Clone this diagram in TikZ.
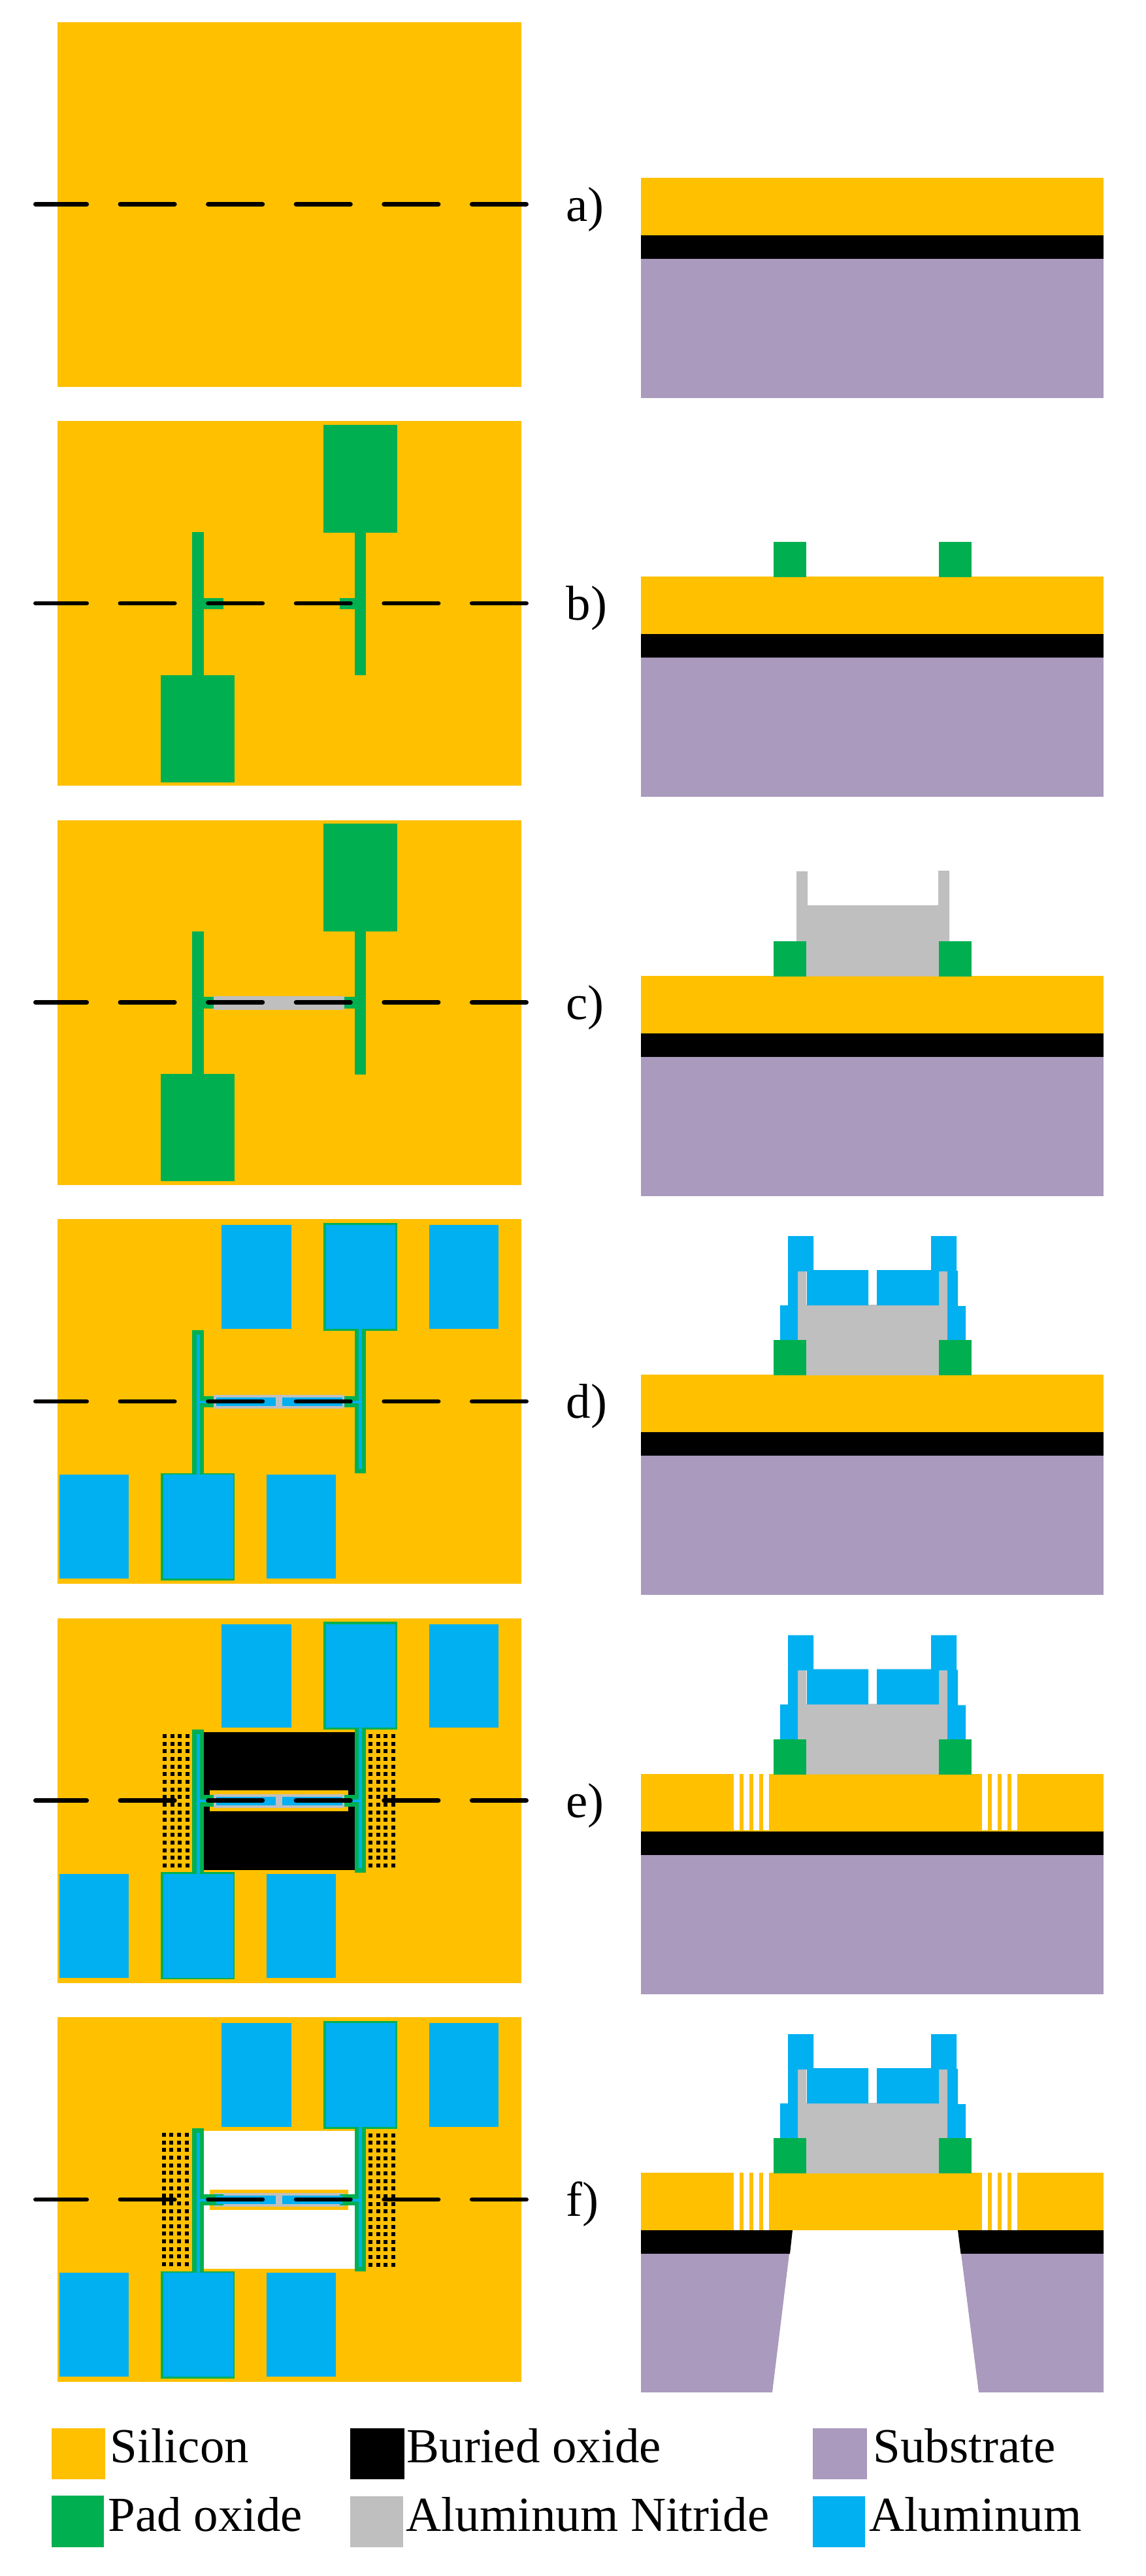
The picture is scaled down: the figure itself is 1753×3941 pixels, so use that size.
\documentclass[tikz,border=0pt]{standalone}
\usepackage{fontspec}
\setmainfont{Liberation Serif}
\usepackage{tikz}
\usetikzlibrary{calc,positioning}
\definecolor{SiliconGold}{HTML}{FFC000}
\definecolor{PadGreen}{HTML}{00B050}
\definecolor{NitrideGray}{HTML}{BFBFBF}
\definecolor{MetalBlue}{HTML}{00B0F0}
\definecolor{SubstratePurple}{HTML}{AA9ABE}
\tikzset{
    silicon/.style={fill=SiliconGold},
    buried/.style={fill=black},
    substrate/.style={fill=SubstratePurple},
    padoxide/.style={fill=PadGreen},
    nitride/.style={fill=NitrideGray},
    metal/.style={fill=MetalBlue},
    opening/.style={fill=white},
    cutline/.style={draw=black,line width=1.95pt,line cap=round,dash pattern=on 23.67pt off 14.6pt,dash phase=1.42pt},
    labeltext/.style={inner sep=0pt,anchor=base west,font=\fontsize{21.3pt}{24pt}\selectfont}
}
% plan view
\newcommand{\planwafer}{\fill[silicon] (88,0) rectangle (797.5,558);}
\newcommand{\planoxide}{
    \fill[padoxide] (495,5.8) rectangle (607.7,170.8);
    \fill[padoxide] (543,170.8) rectangle (560,389);
    \fill[padoxide] (520,270.7) rectangle (543,288);
    \fill[padoxide] (294,170.4) rectangle (311.7,388.5);
    \fill[padoxide] (311.7,270.7) rectangle (342,288);
    \fill[padoxide] (246,388.5) rectangle (359,552.7);
}
\newcommand{\plannitride}{\fill[nitride] (326.5,269) rectangle (527.3,290.3);}
\newcommand{\planmetal}{
    \foreach \xa/\xb in {339/446,498.5/604.6,657/762.8}
        \fill[metal] (\xa,9) rectangle (\xb,167.5);
    \foreach \xa/\xb in {90.8/197,249.5/356.6,408/513.8}
        \fill[metal] (\xa,391) rectangle (\xb,550);
    \fill[metal] (300.5,177) rectangle (305.6,391);
    \fill[metal] (549,167.5) rectangle (554,382);
    \fill[metal] (305.6,277.8) rectangle (331,281.6);
    \fill[metal] (523.5,277.8) rectangle (549,281.6);
    \fill[metal] (331,273) rectangle (422,286);
    \fill[metal] (432,273) rectangle (523.5,286);
}
% release holes, #1 is the first column, #2 the first row
\newcommand{\holegrid}[2]{
    \foreach \col in {0,...,3}
        \foreach \row in {0,...,17}
            \fill[buried] ({#1+\col*11.67-3},{#2+\row*11.65-3}) rectangle ++(6,6);
}
% cross section
\newcommand{\crosssilicon}{\fill[silicon] (981,238) rectangle (1689,326);}
\newcommand{\crosslayers}{
    \crosssilicon
    \fill[buried] (981,326) rectangle (1689,362);
    \fill[substrate] (981,362) rectangle (1689,575);
}
\newcommand{\crossoxide}{
    \fill[padoxide] (1184,185) rectangle (1234,239);
    \fill[padoxide] (1437,185) rectangle (1487,239);
}
\newcommand{\crossmetal}{
    \fill[nitride] (1234,131) -- (1437,131) -- (1437,80) -- (1450,80) -- (1450,186.5) -- (1437,186.5)
        -- (1437,239) -- (1234,239) -- (1234,186.5) -- (1221,186.5) -- (1221,80) -- (1234,80) -- cycle;
    \fill[metal] (1206,26) -- (1245,26) -- (1245,78) -- (1329,78) -- (1329,132) -- (1235,132) -- (1235,80)
        -- (1221,80) -- (1221,186) -- (1194,186) -- (1194,132) -- (1206,132) -- cycle;
    \fill[metal] (1425,26) -- (1464,26) -- (1464,79) -- (1466,79) -- (1466,133) -- (1478,133) -- (1478,187)
        -- (1450,187) -- (1450,80) -- (1437,80) -- (1437,132) -- (1342,132) -- (1342,78) -- (1425,78) -- cycle;
}
% trenches through the silicon, #1 is their lower end
\newcommand{\crosstrenches}[1]{
    \foreach \xa/\xb in {1123.2/1132.3,1138/1147,1152.9/1162,1168/1177,1503/1511.5,1518/1526.5,1533/1541.5,1548/1557}
        \fill[opening] (\xa,238) rectangle (\xb,#1);
}
\begin{document}
\begin{tikzpicture}[x=0.01cm,y=-0.01cm]
    \useasboundingbox (0,0) rectangle (1753,3941);

    % a)
    \begin{scope}[shift={(0,33.5)}]
        \planwafer
        \crosslayers
        \coordinate (cutaL) at (54.4,279);
        \coordinate (cutaR) at (806,279);
        \draw[cutline] (cutaL) -- (cutaR);
        \node[labeltext] (labela) at (866,304.6) {a)};
    \end{scope}

    % b)
    \begin{scope}[shift={(0,644)}]
        \planwafer
        \planoxide
        \crosslayers
        \crossoxide
        \coordinate (cutbL) at (54.4,279);
        \coordinate (cutbR) at (806,279);
        \draw[cutline] (cutbL) -- (cutbR);
        \node[labeltext] (labelb) at (866,304.6) {b)};
    \end{scope}

    % c)
    \begin{scope}[shift={(0,1254.5)}]
        \planwafer
        \planoxide
        \plannitride
        \crosslayers
        \fill[nitride] (1236,130.5) -- (1436,130.5) -- (1436,77.5) -- (1453,77.5) -- (1453,186.5) -- (1437,186.5)
            -- (1437,239) -- (1234,239) -- (1234,186.5) -- (1219,186.5) -- (1219,78.5) -- (1236,78.5) -- cycle;
        \crossoxide
        \coordinate (cutcL) at (54.4,279);
        \coordinate (cutcR) at (806,279);
        \draw[cutline] (cutcL) -- (cutcR);
        \node[labeltext] (labelc) at (866,304.6) {c)};
    \end{scope}

    % d)
    \begin{scope}[shift={(0,1865)}]
        \planwafer
        \planoxide
        \plannitride
        \planmetal
        \crosslayers
        \crossmetal
        \crossoxide
        \coordinate (cutdL) at (54.4,279);
        \coordinate (cutdR) at (806,279);
        \draw[cutline] (cutdL) -- (cutdR);
        \node[labeltext] (labeld) at (866,304.6) {d)};
    \end{scope}

    % e)
    \begin{scope}[shift={(0,2475.5)}]
        \planwafer
        \fill[buried] (311.3,174.5) rectangle (543,385.5);
        \fill[silicon] (321,263.5) rectangle (533,295);
        \holegrid{252}{180.5}
        \holegrid{567}{180.5}
        \planoxide
        \plannitride
        \planmetal
        \crosslayers
        \crosstrenches{324.6}
        \crossmetal
        \crossoxide
        \coordinate (cuteL) at (54.4,279);
        \coordinate (cuteR) at (806,279);
        \draw[cutline] (cuteL) -- (cuteR);
        \node[labeltext] (labele) at (866,304.6) {e)};
    \end{scope}

    % f)
    \begin{scope}[shift={(0,3086)}]
        \planwafer
        \fill[opening] (311.3,174) rectangle (543,385);
        \fill[silicon] (321,264) rectangle (533,295);
        \holegrid{250.7}{180}
        \holegrid{567}{180.7}
        \planoxide
        \plannitride
        \fill[padoxide] (311.7,270.7) rectangle (342,288);
        \fill[padoxide] (520,270.7) rectangle (543,288);
        \planmetal
        \crosssilicon
        \crosstrenches{326}
        \fill[buried] (981,326) -- (1213,326) -- (1209,362) -- (981,362) -- cycle;
        \fill[buried] (1466,326) -- (1689,326) -- (1689,362) -- (1470.5,362) -- cycle;
        \fill[substrate] (981,362) -- (1208,362) -- (1182,574) -- (981,574) -- cycle;
        \fill[substrate] (1471,362) -- (1689,362) -- (1689,574) -- (1498,574) -- cycle;
        \crossmetal
        \crossoxide
        \coordinate (cutfL) at (54.4,279);
        \coordinate (cutfR) at (806,279);
        \draw[cutline] (cutfL) -- (cutfR);
        \node[labeltext] (labelf) at (866,304.6) {f)};
    \end{scope}

    % legend
    \fill[silicon] (79.4,3715) rectangle (161,3793);
    \node[labeltext] (silicon) at (168,3767.7) {Silicon};
    \fill[buried] (536,3715) rectangle (618.6,3793);
    \node[labeltext] (buried) at (622,3767.7) {Buried oxide};
    \fill[substrate] (1244,3715) rectangle (1327,3793);
    \node[labeltext] (substrate) at (1336,3767.7) {Substrate};
    \fill[padoxide] (79.4,3818) rectangle (159,3897);
    \node[labeltext] (padoxide) at (165,3872) {Pad oxide};
    \fill[nitride] (536,3819) rectangle (617.4,3897);
    \node[labeltext] (nitride) at (621,3872) {Aluminum Nitride};
    \fill[metal] (1244,3819) rectangle (1324,3897);
    \node[labeltext] (aluminum) at (1330,3872) {Aluminum};
\end{tikzpicture}
\end{document}
